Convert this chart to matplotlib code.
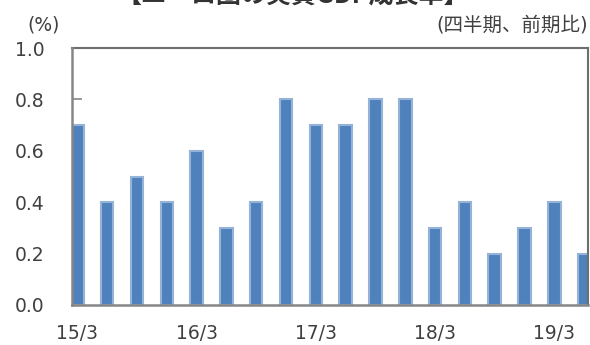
import matplotlib
matplotlib.use("Agg")
import matplotlib.pyplot as plt
import numpy as np

plt.rcParams['font.family'] = ['DejaVu Sans', 'Noto Sans CJK JP']

categories = ["15/3", "15/6", "15/9", "15/12", "16/3", "16/6", "16/9", "16/12",
              "17/3", "17/6", "17/9", "17/12", "18/3", "18/6", "18/9", "18/12",
              "19/3", "19/6"]
values = [0.7, 0.4, 0.5, 0.4, 0.6, 0.3, 0.4, 0.8, 0.7, 0.7, 0.8, 0.8,
          0.3, 0.4, 0.2, 0.3, 0.4, 0.2]
yticks = [0.0, 0.2, 0.4, 0.6, 0.8, 1.0]
title = "【ユーロ圏の実質GDP成長率】"

fig = plt.figure(figsize=(5.9, 3.45), dpi=100)
ax = fig.add_axes([72/590, 1-305/345, (588-72)/590, (305-48)/345])

x = np.arange(len(categories))
ax.bar(x, values, width=0.42, color="#4F81BD", edgecolor="#95B3D7",
       linewidth=1.5, zorder=2)

ax.set_xlim(-0.18, 17.13)
ax.set_ylim(0, 1.0)
ax.set_yticks(yticks)
ax.set_yticklabels([f"{v:.1f}" for v in yticks])
ax.tick_params(axis='y', direction='in', length=7, width=1.2, color="#868686",
               labelsize=13.5, labelcolor="#404040", pad=20)

major = [i for i in range(len(categories)) if i % 4 == 0]
ax.set_xticks(major)
ax.set_xticklabels([categories[i] for i in major])
ax.tick_params(axis='x', which='major', length=0, labelsize=13.5,
               labelcolor="#404040", pad=14)
ax.set_xticks([i - 0.2 for i in major if i > 0], minor=True)
ax.tick_params(axis='x', which='minor', direction='in', length=5, width=1.2,
               color="#868686")

for side in ['left', 'bottom']:
    ax.spines[side].set_color("#868686")
    ax.spines[side].set_linewidth(1.8)
    ax.spines[side].set_zorder(3)
for side in ['top', 'right']:
    ax.spines[side].set_color("#6e6e6e")
    ax.spines[side].set_linewidth(1.5)

fig.text(27/590, 1-25/345, "(%)", fontsize=13.5, color="#404040",
         ha='left', va='center')
fig.text(588/590, 1-25/345, "(四半期、前期比)", fontsize=14, color="#404040",
         ha='right', va='center')
fig.text(293/590, 1-9/345, title, fontsize=18, fontweight='bold',
         color="#333333", ha='center', va='bottom',
         family=['Noto Sans CJK JP', 'DejaVu Sans'])

fig.savefig("out.png", dpi=100)
